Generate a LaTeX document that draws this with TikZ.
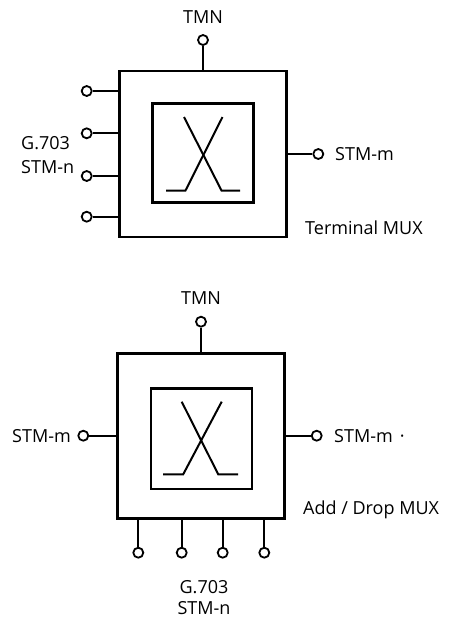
\documentclass[tikz,border=0pt]{standalone}
\usepackage{fontspec}
\setmainfont{Open Sans}
\begin{document}
\begin{tikzpicture}[x=1pt,y=-1pt,
  outerbox/.style={draw, line width=2.6pt, minimum width=167pt, minimum height=166pt, inner sep=0pt},
  innerbox/.style={draw, line width=2.4pt, minimum width=101pt, minimum height=99pt, inner sep=0pt},
  port/.style={draw, circle, line width=1.8pt, minimum size=10pt, inner sep=0pt, fill=white},
  wire/.style={line width=1.8pt},
  cross/.style={line width=2pt},
  lbl/.style={inner sep=0pt, font=\fontsize{18}{22}\selectfont}
]
\useasboundingbox (0,0) rectangle (458,619);

% ---------- Terminal MUX ----------
\node[outerbox] (tb) at (203,154) {};
\node[innerbox] (ti) at (203,153) {};
\draw[cross, shift={(ti.center)}] (-19,-36) -- (18.5,37.5) -- (37,37.5);
\draw[cross, shift={(ti.center)}] (19.5,-36) -- (-17.5,37.5) -- (-37,37.5);

\node[port] (t0) at (203,40) {};
\node[lbl, anchor=base] (ttmn) at (203,23.8) {TMN};
\draw[wire] (t0) -- (t0 |- tb.north);

\node[port] (tl1) at (86.7,91) {};
\node[port] (tl2) at (86.7,133.3) {};
\node[port] (tl3) at (86.7,176) {};
\node[port] (tl4) at (86.7,216.7) {};
\foreach \p in {tl1,tl2,tl3,tl4} \draw[wire] (\p) -- (\p -| tb.west);

\node[lbl, anchor=base west] (tg) at (21,149.2) {G.703};
\node[lbl, anchor=base west] (ts) at (21,173.2) {STM-n};

\node[port] (tr) at (318.3,154) {};
\draw[wire] (tr) -- (tr -| tb.east);
\node[lbl, anchor=base west] (trl) at (335,160.5) {STM-m};

\node[lbl, anchor=base west] (tname) at (305,234.5) {Terminal MUX};

% ---------- Add / Drop MUX ----------
\node[outerbox, minimum height=165pt] (ab) at (201.2,435.8) {};
\node[innerbox, minimum height=100.5pt] (ai) at (201.2,438.7) {};
\draw[cross, shift={(ai.center)}] (-19.5,-37) -- (17,35.6) -- (37,35.6);
\draw[cross, shift={(ai.center)}] (20.5,-37) -- (-18,35.6) -- (-38,35.6);

\node[port] (a0) at (201,321.7) {};
\node[lbl, anchor=base] (atmn) at (201,304.8) {TMN};
\draw[wire] (a0) -- (a0 |- ab.north);

\node[port] (al) at (83.3,435.7) {};
\draw[wire] (al) -- (al -| ab.west);
\node[lbl, anchor=base east] (all) at (71,442.2) {STM-m};

\node[port] (ar) at (316.7,435.7) {};
\draw[wire] (ar) -- (ar -| ab.east);
\node[lbl, anchor=base west] (arl) at (334,442.2) {STM-m\hspace{7pt}·};

\node[port] (ab1) at (138.3,552.7) {};
\node[port] (ab2) at (181.7,552.7) {};
\node[port] (ab3) at (222.7,552.7) {};
\node[port] (ab4) at (264.3,552.7) {};
\foreach \p in {ab1,ab2,ab3,ab4} \draw[wire] (\p) -- (\p |- ab.south);

\node[lbl, anchor=base west] (aname) at (303,514.8) {Add / Drop MUX};

\node[lbl, anchor=base] (ag) at (204,593.5) {G.703};
\node[lbl, anchor=base] (as) at (204,614.5) {STM-n};
\end{tikzpicture}
\end{document}
